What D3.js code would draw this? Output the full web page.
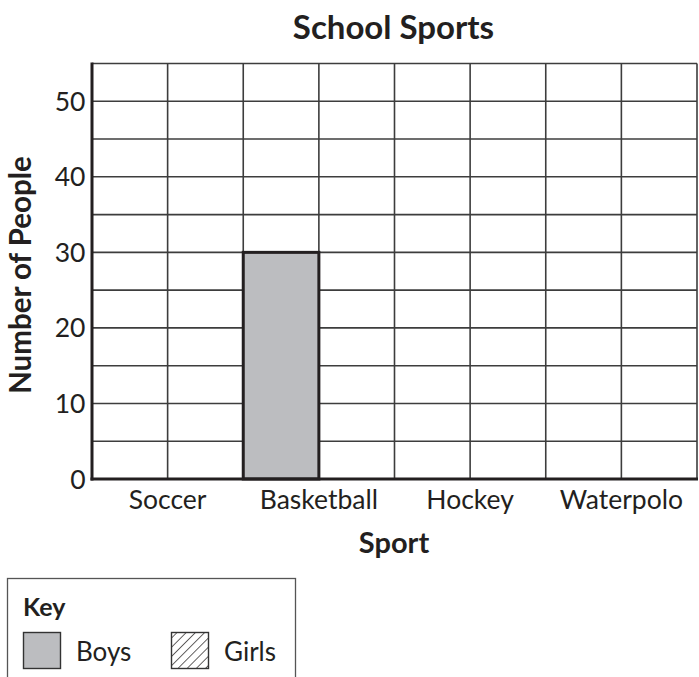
<!DOCTYPE html>
<html>
<head>
<meta charset="utf-8">
<script src="https://cdn.jsdelivr.net/npm/d3@7"></script>
<style>
  html, body { margin: 0; padding: 0; background: #fff; }
  svg { display: block; }
  text { font-family: Lato, "Open Sans", sans-serif; fill: #231f20; }
</style>
</head>
<body>
<svg id="chart" width="699" height="677"></svg>
<script>
const title = "School Sports";
const categories = ["Soccer", "Basketball", "Hockey", "Waterpolo"];
const seriesNames = ["Boys", "Girls"];
const boys = [0, 30, 0, 0];
const girls = [0, 0, 0, 0];
const yTicks = [0, 10, 20, 30, 40, 50];
const yMax = 55;
const yStep = 5;
const xLabel = "Sport";
const yLabel = "Number of People";

const svg = d3.select("#chart");
const pLeft = 92, pRight = 697, pTop = 63.5, pBottom = 479;

const x = d3.scaleBand().domain(categories).range([pLeft, pRight]).paddingInner(0).paddingOuter(0);
const xs = d3.scaleBand().domain(seriesNames).range([0, x.bandwidth()]).padding(0);
const y = d3.scaleLinear().domain([0, yMax]).range([pBottom, pTop]);

// defs: hatch pattern
const defs = svg.append("defs");
const pat = defs.append("pattern").attr("id", "hatch").attr("patternUnits", "userSpaceOnUse")
  .attr("width", 6.5).attr("height", 6.5).attr("patternTransform", "rotate(45)");
pat.append("line").attr("x1", 0).attr("y1", 0).attr("x2", 0).attr("y2", 6.5)
  .attr("stroke", "#231f20").attr("stroke-width", 1.4);

// horizontal gridlines
const hVals = d3.range(yStep, yMax + 0.001, yStep);
svg.append("g").selectAll("line").data(hVals).join("line")
  .attr("x1", pLeft).attr("x2", pRight)
  .attr("y1", d => y(d)).attr("y2", d => y(d))
  .attr("stroke", "#3d3d3d").attr("stroke-width", 1.6);

// vertical gridlines
const vVals = [];
categories.forEach(c => seriesNames.forEach(s => vVals.push(x(c) + xs(s) + xs.bandwidth())));
svg.append("g").selectAll("line").data(vVals).join("line")
  .attr("x1", d => d).attr("x2", d => d)
  .attr("y1", pTop).attr("y2", pBottom)
  .attr("stroke", "#3d3d3d").attr("stroke-width", 1.6);

// bars
const barData = [];
categories.forEach((c, i) => {
  barData.push({cat: c, s: "Boys", v: boys[i]});
  barData.push({cat: c, s: "Girls", v: girls[i]});
});
svg.append("g").selectAll("rect").data(barData.filter(d => d.v > 0)).join("rect")
  .attr("x", d => x(d.cat) + xs(d.s))
  .attr("y", d => y(d.v))
  .attr("width", xs.bandwidth())
  .attr("height", d => y(0) - y(d.v))
  .attr("fill", d => d.s === "Boys" ? "#bcbdc0" : "url(#hatch)")
  .attr("stroke", "#231f20").attr("stroke-width", 3);

// axes lines
svg.append("line").attr("x1", pLeft).attr("x2", pLeft).attr("y1", pTop - 1).attr("y2", pBottom + 1.5)
  .attr("stroke", "#231f20").attr("stroke-width", 3);
svg.append("line").attr("x1", pLeft - 1.5).attr("x2", pRight + 1).attr("y1", pBottom).attr("y2", pBottom)
  .attr("stroke", "#231f20").attr("stroke-width", 3);

// y tick labels
svg.append("g").selectAll("text").data(yTicks).join("text")
  .attr("x", 85.5).attr("y", d => y(d)).attr("dy", "0.36em")
  .attr("text-anchor", "end").attr("font-size", 26.5).text(d => d);

// x tick labels
svg.append("g").selectAll("text").data(categories).join("text")
  .attr("x", d => x(d) + x.bandwidth() / 2).attr("y", 509)
  .attr("text-anchor", "middle").attr("font-size", 26.5).text(d => d);

// title
svg.append("text").attr("x", 393.5).attr("y", 38.5).attr("text-anchor", "middle")
  .attr("font-size", 33).attr("font-weight", "bold").text(title);

// axis titles
svg.append("text").attr("x", 394).attr("y", 553).attr("text-anchor", "middle")
  .attr("font-size", 29).attr("font-weight", "bold").text(xLabel);
svg.append("text").attr("transform", "translate(31," + ((150 + 400) / 2) + ") rotate(-90)")
  .attr("text-anchor", "middle").attr("font-size", 29.5).attr("font-weight", "bold").text(yLabel);

// legend
const lg = svg.append("g");
lg.append("rect").attr("x", 7.5).attr("y", 578.5).attr("width", 288).attr("height", 120)
  .attr("fill", "none").attr("stroke", "#555").attr("stroke-width", 1.3);
lg.append("text").attr("x", 23).attr("y", 616).attr("font-size", 25).attr("font-weight", "bold").text("Key");
const legX = [23, 171];
seriesNames.forEach((s, i) => {
  lg.append("rect").attr("x", legX[i] + 0.5).attr("y", 632.5).attr("width", 37).attr("height", 36)
    .attr("fill", s === "Boys" ? "#bcbdc0" : "url(#hatch)")
    .attr("stroke", "#333").attr("stroke-width", 1.4);
  lg.append("text").attr("x", legX[i] + 53).attr("y", 661).attr("font-size", 26).text(s);
});
</script>
</body>
</html>
